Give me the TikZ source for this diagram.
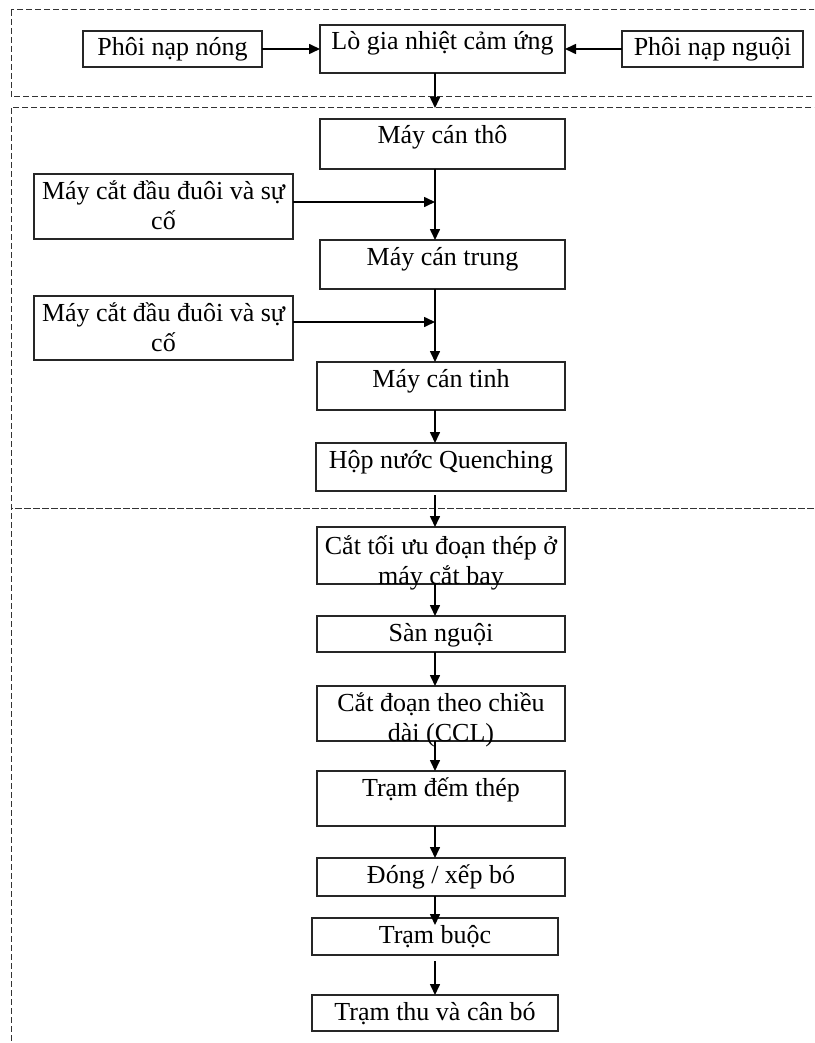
\documentclass[tikz,border=0pt]{standalone}
\usepackage{fontspec}
\setmainfont{Liberation Serif}
\usetikzlibrary{arrows.meta,positioning}

\begin{document}
\begin{tikzpicture}[
    x=1pt, y=-1pt,
    box/.style={rectangle, draw=black!85, line width=1.5pt, outer sep=0pt, inner xsep=2pt, inner ysep=0pt, minimum width=#1, text height=25pt, align=center, font=\fontsize{26pt}{30pt}\selectfont},
    box/.default=248pt,
    arrow/.style={-{Triangle[length=11pt,width=10pt]}, line width=1.6pt},
    zone/.style={draw=black!80, line width=1pt, dash pattern=on 6pt off 3pt}
]

\useasboundingbox (0,0) rectangle (814,1043);
\clip (0,0) rectangle (814,1043);

% Dashed zones
\draw[zone] (11,10) rectangle (830,97);
\draw[zone] (11,108) rectangle (830,508);
\draw[zone, dash phase=4pt] (11,508) rectangle (830,1060);

% Heating
\node[box=245pt, text depth=23pt] (furnace) at (442.5,49) {Lò gia nhiệt cảm ứng};
\node[box=179pt, text depth=11pt, left=58pt of furnace] (hot) {Phôi nạp nóng};
\node[box=181pt, text depth=11pt, right=57pt of furnace] (cold) {Phôi nạp nguội};

% Rolling
\node[box=245pt, text depth=25pt, below=46pt of furnace] (rough) {Máy cán thô};
\node[box=245pt, text depth=24pt, below=71pt of rough] (inter) {Máy cán trung};
\node[box, text depth=23pt, below=73pt of inter, xshift=-1.5pt] (finish) {Máy cán tinh};
\node[box=250pt, text depth=23pt, below=33pt of finish] (quench) {Hộp nước Quenching};
\node[box=259pt, text height=55pt, text depth=10pt, below left=5pt and 27pt of rough.south west] (shear1) {Máy cắt đầu đuôi và sự\\cố};
\node[box=259pt, text height=55pt, text depth=9pt, below left=7pt and 27pt of inter.south west] (shear2) {Máy cắt đầu đuôi và sự\\cố};

% Finishing
\node[box, text height=57pt, text depth=-2pt, below=36pt of quench] (flycut) {Cắt tối ưu đoạn thép ở\\máy cắt bay};
\node[box, text depth=11pt, below=32pt of flycut] (cool) {Sàn nguội};
\node[box, text height=55pt, text depth=-1pt, below=34pt of cool] (ccl) {Cắt đoạn theo chiều\\dài (CCL)};
\node[box, text depth=30pt, below=30pt of ccl] (count) {Trạm đếm thép};
\node[box, text depth=13pt, below=32pt of count] (bundle) {Đóng / xếp bó};
\node[box=246pt, text depth=12pt, below=22pt of bundle, xshift=-6pt] (tie) {Trạm buộc};
\node[box=246pt, text depth=11pt, below=40pt of tie] (weigh) {Trạm thu và cân bó};

% Line axis
\coordinate (axis) at (435,0);
\coordinate (entry) at (435,108);

% Arrows
\draw[arrow] (hot) -- (furnace);
\draw[arrow] (cold) -- (furnace);
\draw[arrow] (furnace.south -| axis) -- (entry);
\draw[arrow] (rough.south -| axis) -- (inter.north -| axis);
\draw[arrow] ([yshift=4.5pt]shear1.east) -- ([yshift=4.5pt]shear1.east -| axis);
\draw[arrow] (inter.south -| axis) -- (finish.north -| axis);
\draw[arrow] ([yshift=6pt]shear2.east) -- ([yshift=6pt]shear2.east -| axis);
\draw[arrow] (finish.south -| axis) -- (quench.north -| axis);
\draw[arrow, shorten <=4pt] (quench.south -| axis) -- (flycut.north -| axis);
\draw[arrow] (flycut.south -| axis) -- (cool.north -| axis);
\draw[arrow] (cool.south -| axis) -- (ccl.north -| axis);
\draw[arrow] (ccl.south -| axis) -- (count.north -| axis);
\draw[arrow] (count.south -| axis) -- (bundle.north -| axis);
\draw[arrow, shorten >=-7pt] (bundle.south -| axis) -- (tie.north -| axis);
\draw[arrow, shorten <=6pt] (tie.south -| axis) -- (weigh.north -| axis);

\end{tikzpicture}
\end{document}
